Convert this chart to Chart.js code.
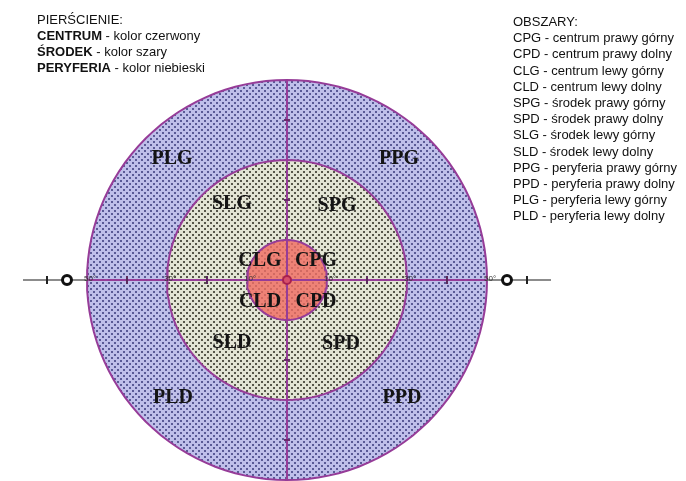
<!DOCTYPE html>
<html>
<head>
<meta charset="utf-8">
<script src="https://cdn.jsdelivr.net/npm/chart.js"></script>
<style>
    body { margin: 0; background: #fff; }
    #wrap { position: relative; width: 686px; height: 481px; overflow: hidden; }
    .leg { position: absolute; font-family: "Liberation Sans", Arial, sans-serif; font-size: 13px;
           line-height: 16px; color: #111; white-space: nowrap; }
    .leg b { font-weight: bold; }
</style>
</head>
<body>
<div id="wrap">
    <canvas id="myChart"></canvas>
    <div class="leg" id="legLeft" style="left:37px; top:12px"></div>
    <div class="leg" id="legRight" style="left:513px; top:14px; line-height:16.2px"></div>
</div>

<script>
    // Pierścienie (promień w stopniach)
    var ringNames = ['CENTRUM', 'ŚRODEK', 'PERYFERIA'];
    var ringColors = ['kolor czerwony', 'kolor szary', 'kolor niebieski'];
    var ringRadii = [10, 30, 50];

    // Oś pozioma: kreski, etykiety, znaczniki
    var hTicks = [-60, -40, -20, 20, 40, 60];
    var vTicks = [-40, -20, 20, 40];
    var degValues = [-50, -30, -10, 10, 30, 50];
    var degLabels = ['50°', '30°', '10°', '10°', '30°', '50°'];
    var markerX = [-55, 55];
    var axisEnd = 66;

    // Obszary
    var zoneCodes = ['CPG', 'CPD', 'CLG', 'CLD', 'SPG', 'SPD', 'SLG', 'SLD', 'PPG', 'PPD', 'PLG', 'PLD'];
    var zoneNames = ['centrum prawy górny', 'centrum prawy dolny', 'centrum lewy górny', 'centrum lewy dolny',
        'środek prawy górny', 'środek prawy dolny', 'środek lewy górny', 'środek lewy dolny',
        'peryferia prawy górny', 'peryferia prawy dolny', 'peryferia lewy górny', 'peryferia lewy dolny'];

    // położenie napisów obszarów (w stopniach)
    var zoneAnchor = {
        CPG: [7.25, 5], CPD: [7.25, -5.25], CLG: [-6.75, 5], CLD: [-6.75, -5.25],
        SPG: [12.5, 18.75], SPD: [13.5, -15.75], SLG: [-13.75, 19.25], SLD: [-13.75, -15.5],
        PPG: [28, 30.5], PPD: [28.75, -29.25], PLG: [-28.75, 30.5], PLD: [-28.5, -29.25]
    };

    // legendy tekstowe
    var htmlL = 'PIERŚCIENIE:';
    for (var i = 0; i < ringNames.length; i++) {
        htmlL += '<br><b>' + ringNames[i] + '</b> - ' + ringColors[i];
    }
    document.getElementById('legLeft').innerHTML = htmlL;
    var htmlR = 'OBSZARY:';
    for (var j = 0; j < zoneCodes.length; j++) {
        htmlR += '<br>' + zoneCodes[j] + ' - ' + zoneNames[j];
    }
    document.getElementById('legRight').innerHTML = htmlR;

    // tekstura kropkowana
    function dots(base, dot, size) {
        var c = document.createElement('canvas');
        c.width = size; c.height = size;
        var g = c.getContext('2d');
        g.fillStyle = base; g.fillRect(0, 0, size, size);
        g.fillStyle = dot;
        g.fillRect(0, 0, 2, 2);
        g.fillRect(size / 2, size / 2, 2, 2);
        return g.createPattern(c, 'repeat');
    }
    var fills = [
        dots('#ee8276', '#d26a62', 6),
        dots('#e2e4d4', '#56564a', 6),
        dots('#bfbfea', '#5a5a96', 6)
    ];

    function circle(r) {
        var pts = [];
        for (var a = 0; a <= 360; a += 3) {
            var t = a * Math.PI / 180;
            pts.push({x: r * Math.cos(t), y: r * Math.sin(t)});
        }
        return pts;
    }

    var purple = '#963c98';
    var ringSets = [];
    for (var k = 0; k < ringRadii.length; k++) {
        ringSets.push({
            data: circle(ringRadii[k]), pointRadius: 0,
            borderColor: purple, borderWidth: 2, backgroundColor: fills[k], fill: 'shape'
        });
    }

    var labelsPlugin = {
        id: 'zoneLabels',
        afterDatasetsDraw: function(chart) {
            var ctx = chart.ctx, xs = chart.scales.x, ys = chart.scales.y;
            ctx.save();
            ctx.font = '8px "Liberation Sans", Arial';
            ctx.fillStyle = '#333';
            ctx.textBaseline = 'middle';
            ctx.textAlign = 'left';
            degValues.forEach(function(v, i) {
                ctx.fillText(degLabels[i], xs.getPixelForValue(v) - 3, ys.getPixelForValue(0) - 1);
            });
            ctx.font = 'bold 20px "Liberation Serif", "Times New Roman", serif';
            ctx.fillStyle = '#141414';
            ctx.textAlign = 'center';
            zoneCodes.forEach(function(z) {
                var p = zoneAnchor[z];
                ctx.fillText(z, xs.getPixelForValue(p[0]), ys.getPixelForValue(p[1]) + 1);
            });
            ctx.restore();
        }
    };

    var ctx = document.getElementById('myChart').getContext('2d');
    var chart = new Chart(ctx, {
        type: 'line',
        data: {
            datasets: [
                {   // środek
                    data: [{x: 0, y: 0}], showLine: false, pointRadius: 4, borderWidth: 2,
                    backgroundColor: '#d8506a', borderColor: '#a8204e'
                },
                {   // znaczniki
                    data: markerX.map(function(v) { return {x: v, y: 0}; }), showLine: false,
                    pointRadius: 4.5, borderWidth: 3, backgroundColor: '#fff', borderColor: '#111'
                },
                {   // kreski pionowej osi
                    data: vTicks.map(function(v) { return {x: 0, y: v}; }), showLine: false,
                    pointStyle: 'line', pointRadius: 3, borderWidth: 2, borderColor: '#6a2a6c'
                },
                {   // kreski poziomej osi
                    data: hTicks.map(function(v) { return {x: v, y: 0}; }), showLine: false,
                    pointStyle: 'line', pointRotation: 90, pointRadius: 4, pointBorderWidth: 2,
                    pointBorderColor: hTicks.map(function(v) { return Math.abs(v) > 50 ? '#222' : '#5a2a5c'; })
                },
                {   // oś pionowa
                    data: [{x: 0, y: ringRadii[2]}, {x: 0, y: -ringRadii[2]}],
                    pointRadius: 0, borderColor: purple, borderWidth: 2
                },
                {   // oś pozioma
                    data: [{x: -ringRadii[2], y: 0}, {x: ringRadii[2], y: 0}],
                    pointRadius: 0, borderColor: purple, borderWidth: 2
                },
                {
                    data: [{x: -axisEnd, y: 0}, {x: axisEnd, y: 0}],
                    pointRadius: 0, borderColor: '#8c8c8c', borderWidth: 2
                },
                ringSets[0], ringSets[1], ringSets[2]
            ]
        },
        options: {
            responsive: true,
            maintainAspectRatio: false,
            animation: false,
            layout: { padding: 0, autoPadding: false },
            elements: { line: { tension: 0 } },
            plugins: { legend: { display: false }, tooltip: { enabled: false } },
            scales: {
                x: { type: 'linear', display: false, min: -71.75, max: 99.75 },
                y: { type: 'linear', display: false, min: -50.25, max: 70 }
            }
        },
        plugins: [labelsPlugin]
    });
</script>
</body>
</html>
